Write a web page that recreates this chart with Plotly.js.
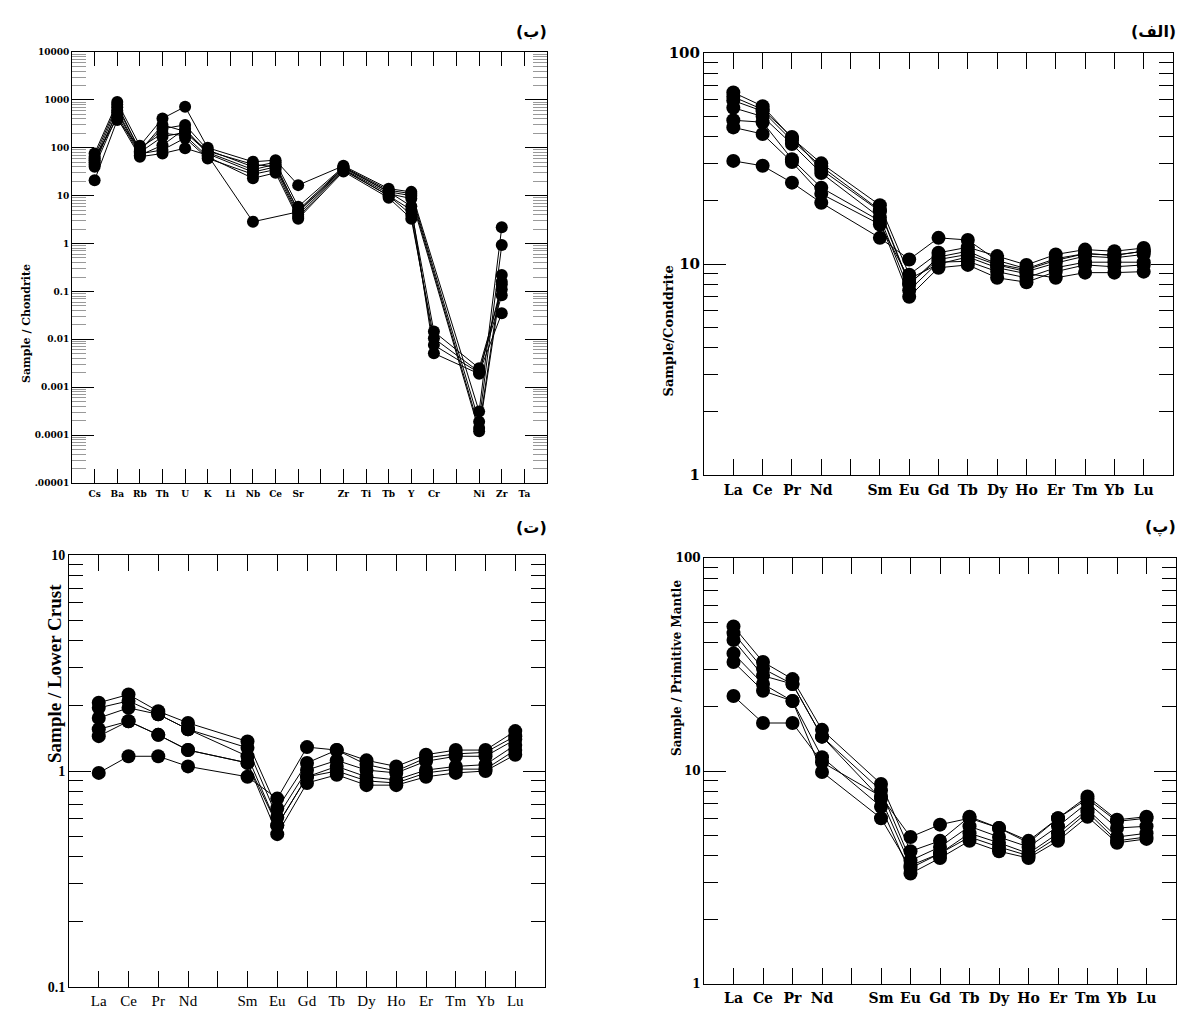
<!DOCTYPE html>
<html>
<head>
<meta charset="utf-8">
<script src="https://cdn.plot.ly/plotly-3.0.1.min.js"></script>
<style>html,body{margin:0;padding:0;background:#fff;}#chart{width:1182px;height:1009px;}</style>
</head>
<body>
<div id="chart"></div>
<script>
// ---------------- DATA ----------------
// Panel (ب): Sample / Chondrite spider diagram ("" = empty slot)
const spiderCats = ["Cs","Ba","Rb","Th","U","K","Li","Nb","Ce","Sr","","Zr","Ti","Tb","Y","Cr","","Ni","Zr","Ta"];
const spider1 = [76, 900, 110, 410, 720, 100, null, 51, 55, 16.6, null, 42, null, 14, 12, null, null, 0.00031, 2.2, null];
const spider2 = [55, 700, 90, 250, 300, 90, null, 40, 50, 5.9, null, 40, null, 13, 11, null, null, 0.00019, 0.93, null];
const spider3 = [45, 600, 80, 170, 210, 80, null, 35, 45, 4.6, null, 38, null, 12, 10, null, null, 0.00014, 0.22, null];
const spider4 = [40, 480, 70, 113, 250, 75, null, 31, 40, 4.0, null, 36, null, 11, 8.7, null, null, 0.00012, 0.16, null];
const spider5 = [60, 420, 65, 76, 98, 70, null, 2.85, null, 4.6, null, 35, null, 10, 5.0, 0.0145, null, 0.0025, 0.11, null];
const spider6 = [21, 380, 100, 200, 180, 65, null, 23, 30, 3.3, null, 32, null, 9, 3.3, 0.0105, null, 0.0021, 0.083, null];
const spider7 = [50, 550, 75, 90, 160, 60, null, 28, 35, 3.6, null, 34, null, 10, 4.0, 0.0076, null, 0.0020, 0.035, null];
const spider8 = [65, 800, 85, 300, 220, 85, null, 45, 40, 5.0, null, 39, null, 12, 6.0, 0.0051, null, 0.0019, 0.14, null];
const spiderYTicks = [1e4, 1e3, 100, 10, 1, 0.1, 0.01, 0.001, 0.0001, 0.00001];
const spiderYLabels = ["10000","1000","100","10","1","0.1","0.01","0.001","0.0001",".00001"];

// REE element slots (index 5 = Pm, empty)
const reeCats = ["La","Ce","Pr","Nd","","Sm","Eu","Gd","Tb","Dy","Ho","Er","Tm","Yb","Lu"];
const reeCatsT = ["La","Ce","Pr","Nd","","Sm","Eu","Gd","Tb","Dy","Ho","Er","Tm","Yb","Lu"];

// Panel (الف): Sample / Chondrite REE
const chon1 = [65, 56, 39.5, 30, null, 19, 8.9, 11.3, 12.0, 10.9, 9.9, 11.1, 11.7, 11.5, 11.9];
const chon2 = [62, 54, 40, 28, null, 17.8, 8.0, 10.8, 11.5, 10.0, 9.4, 10.4, 11.2, 11.0, 11.5];
const chon3 = [59.5, 53, 38.5, 29, null, 18, 8.1, 10.5, 11.1, 9.9, 9.2, 10.1, 10.9, 10.7, 11.1];
const chon4 = [55, 50, 37, 27, null, 16.6, 7.5, 10.2, 10.3, 9.2, 8.6, 9.6, 10.2, 10.2, 10.2];
const chon5 = [48, 47, 31.4, 23, null, 16, 7.0, 9.6, 9.9, 8.6, 8.2, 9.2, 9.9, 9.7, 9.9];
const chon6 = [44.4, 41.3, 30.4, 21.5, null, 15.4, 8.5, 10.0, 10.8, 9.6, 9.0, 8.6, 9.1, 9.1, 9.2];
const chon7 = [30.8, 29.2, 24.3, 19.5, null, 13.3, 10.5, 13.3, 13.0, 10.4, 9.5, 10.6, 11.2, 11.0, 11.5];

// Panel (پ): Sample / Primitive Mantle REE
const pm1 = [47.7, 32.5, 27.0, 15.6, null, 8.7, 4.2, 4.7, 6.1, 5.4, 4.7, 6.0, 7.6, 5.9, 6.1];
const pm2 = [44.4, 30.2, 25.6, 14.5, null, 8.1, 3.8, 4.4, 5.5, 4.9, 4.4, 5.5, 7.1, 5.4, 5.5];
const pm3 = [41.2, 28.0, 25.6, 14.5, null, 7.4, 3.6, 4.1, 5.1, 4.6, 4.1, 5.1, 6.6, 4.9, 5.1];
const pm4 = [35.6, 25.6, 21.3, 11.6, null, 6.8, 3.3, 3.9, 4.7, 4.2, 3.9, 4.7, 6.1, 4.6, 4.8];
const pm5 = [32.5, 23.8, 21.3, 9.9, null, 6.0, 3.5, 4.1, 4.9, 4.4, 4.0, 4.9, 6.4, 4.7, 4.9];
const pm6 = [22.5, 16.8, 16.8, 11.0, null, 7.6, 4.9, 5.6, 6.0, 5.4, 4.6, 6.0, 7.4, 5.8, 6.0];

// Panel (ت): Sample / Lower Crust REE
const lc1 = [2.07, 2.26, 1.89, 1.67, null, 1.37, 0.67, 1.09, 1.25, 1.12, 1.05, 1.19, 1.25, 1.25, 1.53];
const lc2 = [1.96, 2.11, 1.83, 1.56, null, 1.28, 0.61, 1.01, 1.12, 1.01, 0.98, 1.11, 1.17, 1.17, 1.40];
const lc3 = [1.76, 1.96, 1.83, 1.56, null, 1.17, 0.56, 0.94, 1.05, 0.94, 0.91, 1.01, 1.05, 1.07, 1.32];
const lc4 = [1.56, 1.70, 1.47, 1.25, null, 1.09, 0.51, 0.88, 0.96, 0.86, 0.86, 0.94, 0.98, 1.00, 1.19];
const lc5 = [1.45, 1.70, 1.47, 1.25, null, 1.09, 0.56, 0.94, 1.00, 0.90, 0.88, 0.98, 1.02, 1.02, 1.25];
const lc6 = [0.98, 1.17, 1.17, 1.05, null, 0.94, 0.745, 1.29, 1.25, 1.07, 1.00, 1.15, 1.20, 1.22, 1.45];

// ---------------- BUILD ----------------
const W = 1182, H = 1009;
function px2x(a, b) { return [a / W, b / W]; }
function px2y(top, bottom) { return [1 - bottom / H, 1 - top / H]; }
function idx(arr) { return arr.map((_, i) => i + 1); }
function minorVals(lo, hi) {
  const out = [];
  for (let d = lo; d < hi; d++) for (let m = 2; m <= 9; m++) out.push(m * Math.pow(10, d));
  return out;
}

const traces = [];
function addSeries(list, cats, xa, ya, msize) {
  list.forEach(s => {
    traces.push({
      type: 'scatter', mode: 'lines+markers', x: idx(cats), y: s,
      xaxis: xa, yaxis: ya, connectgaps: true, showlegend: false,
      line: {color: '#000', width: 1},
      marker: {color: '#000', size: msize, symbol: 'circle'},
      hoverinfo: 'y'
    });
  });
}
addSeries([spider1, spider2, spider3, spider4, spider5, spider6, spider7, spider8], spiderCats, 'x', 'y', 12);
addSeries([chon1, chon2, chon3, chon4, chon5, chon6, chon7], reeCats, 'x2', 'y2', 14);
addSeries([lc1, lc2, lc3, lc4, lc5, lc6], reeCatsT, 'x3', 'y3', 14);
addSeries([pm1, pm2, pm3, pm4, pm5, pm6], reeCats, 'x4', 'y4', 14);

function xAxis(dom, cats, range, anchor, font, tlen, standoff) {
  return {
    domain: dom, range: range, anchor: anchor,
    tickmode: 'array', tickvals: idx(cats), ticktext: cats,
    ticks: 'inside', ticklen: tlen, tickwidth: 1, tickcolor: '#000',
    mirror: 'allticks', showline: true, linecolor: '#000', linewidth: 1,
    showgrid: false, zeroline: false, tickfont: font, ticklabelstandoff: standoff
  };
}
function yAxis(dom, range, tv, tt, anchor, font, mlo, mhi, majLen, minLen, minColor) {
  return {
    type: 'log', domain: dom, range: range, anchor: anchor,
    tickmode: 'array', tickvals: tv, ticktext: tt,
    ticks: 'inside', ticklen: majLen, tickwidth: 1, tickcolor: '#000',
    mirror: 'allticks', showline: true, linecolor: '#000', linewidth: 1,
    showgrid: false, zeroline: false, tickfont: font,
    minor: {tickmode: 'array', tickvals: minorVals(mlo, mhi), ticks: 'inside', ticklen: minLen, tickcolor: minColor, tickwidth: 1, showgrid: false}
  };
}

const serifB = 'DejaVu Serif';
const faFont = {family: 'DejaVu Sans', size: 16, color: '#000', weight: 'bold'};
const layout = {
  width: W, height: H, margin: {l: 0, r: 0, t: 0, b: 0},
  paper_bgcolor: '#fff', plot_bgcolor: '#fff', showlegend: false,
  xaxis: xAxis(px2x(72, 547), spiderCats, [0, 21], 'y', {family: serifB, size: 9, color: '#000', weight: 'bold'}, 14, 2),
  yaxis: yAxis(px2y(52, 483), [-5, 4], spiderYTicks, spiderYLabels, 'x', {family: serifB, size: 9, color: '#000', weight: 'bold'}, -5, 4, 22, 14, '#999'),
  xaxis2: xAxis(px2x(704, 1173), reeCats, [0, 16], 'y2', {family: serifB, size: 14, color: '#000', weight: 'bold'}, 16, 2),
  yaxis2: yAxis(px2y(53, 475), [0, 2], [1, 10, 100], ["1", "10", "100"], 'x2', {family: serifB, size: 15, color: '#000', weight: 'bold'}, 0, 2, 22, 14, '#000'),
  xaxis3: xAxis(px2x(69, 545), reeCatsT, [0, 16], 'y3', {family: 'Liberation Serif', size: 15, color: '#000'}, 16, 0),
  yaxis3: yAxis(px2y(555, 987), [-1, 1], [0.1, 1, 10], ["0.1", "1", "10"], 'x3', {family: 'Liberation Serif', size: 14, color: '#000', weight: 'bold'}, -1, 1, 22, 14, '#000'),
  xaxis4: xAxis(px2x(704, 1176), reeCats, [0, 16], 'y4', {family: serifB, size: 14, color: '#000', weight: 'bold'}, 16, 1),
  yaxis4: yAxis(px2y(558, 984), [0, 2], [1, 10, 100], ["1", "10", "100"], 'x4', {family: serifB, size: 12, color: '#000', weight: 'bold'}, 0, 2, 22, 14, '#000'),
  annotations: [
    {text: 'Sample / Chondrite', xref: 'paper', yref: 'paper', x: 18 / W, y: 1 - 262 / H, textangle: -90, showarrow: false, font: {family: serifB, size: 11, color: '#000', weight: 'bold'}},
    {text: 'Sample/Conddrite', xref: 'paper', yref: 'paper', x: 668 / W, y: 1 - 264 / H, textangle: -90, showarrow: false, font: {family: serifB, size: 13, color: '#000', weight: 'bold'}},
    {text: 'Sample / Lower Crust', xref: 'paper', yref: 'paper', x: 42 / W, y: 1 - 765 / H, textangle: -90, showarrow: false, font: {family: 'Liberation Serif', size: 19, color: '#000', weight: 'bold'}},
    {text: 'Sample / Primitive Mantle', xref: 'paper', yref: 'paper', x: 677 / W, y: 1 - 758 / H, textangle: -90, showarrow: false, font: {family: serifB, size: 12, color: '#000', weight: 'bold'}},
    {text: '(ب)', xref: 'paper', yref: 'paper', x: 549 / W, y: 1 - 20 / H, xanchor: 'right', showarrow: false, font: faFont},
    {text: '(الف)', xref: 'paper', yref: 'paper', x: 1178 / W, y: 1 - 20 / H, xanchor: 'right', showarrow: false, font: faFont},
    {text: '(ت)', xref: 'paper', yref: 'paper', x: 549 / W, y: 1 - 527 / H, xanchor: 'right', showarrow: false, font: faFont},
    {text: '(پ)', xref: 'paper', yref: 'paper', x: 1178 / W, y: 1 - 527 / H, xanchor: 'right', showarrow: false, font: faFont}
  ]
};

Plotly.newPlot('chart', traces, layout, {staticPlot: true, displayModeBar: false});
</script>
</body>
</html>
